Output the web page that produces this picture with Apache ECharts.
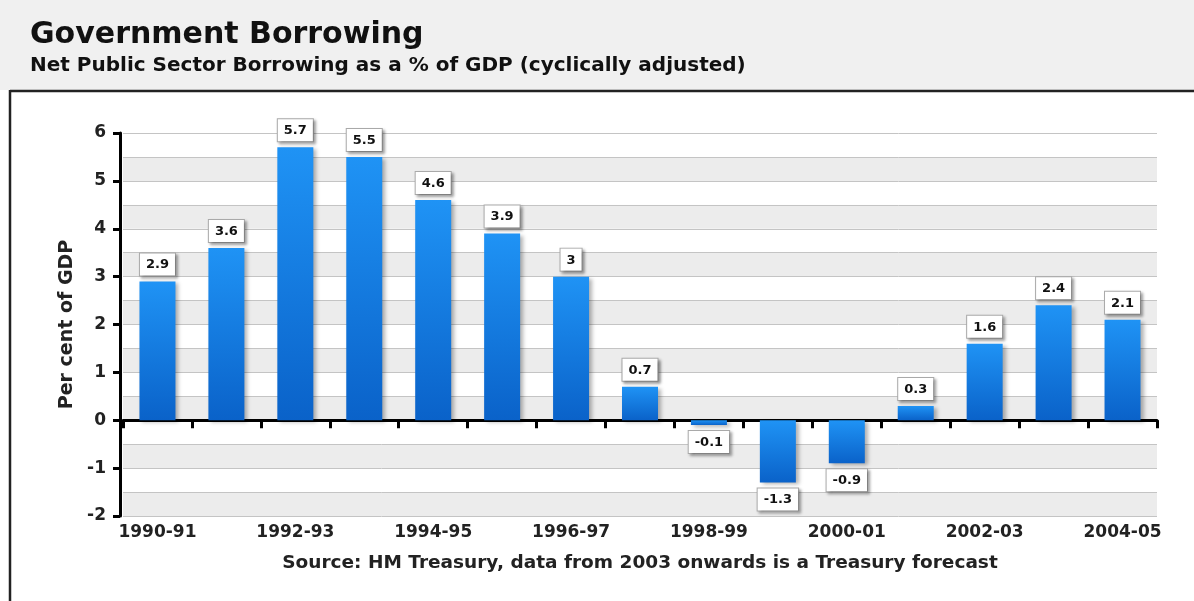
<!DOCTYPE html>
<html>
<head>
<meta charset="utf-8">
<script src="https://cdn.jsdelivr.net/npm/echarts@6/dist/echarts.min.js"></script>
<style>
html,body{margin:0;padding:0;background:#fff;}
#c{width:1194px;height:601px;}
</style>
</head>
<body>
<div id="c"></div>
<script>
const categories = ['1990-91','1991-92','1992-93','1993-94','1994-95','1995-96','1996-97','1997-98','1998-99','1999-00','2000-01','2001-02','2002-03','2003-04','2004-05'];
const borrowing = [2.9, 3.6, 5.7, 5.5, 4.6, 3.9, 3, 0.7, -0.1, -1.3, -0.9, 0.3, 1.6, 2.4, 2.1];
const titleText = 'Government Borrowing';
const subtitleText = 'Net Public Sector Borrowing as a % of GDP (cyclically adjusted)';
const sourceText = 'Source: HM Treasury, data from 2003 onwards is a Treasury forecast';
const yAxisName = 'Per cent of GDP';

const FONT = '"DejaVu Sans", Verdana, sans-serif';
const chart = echarts.init(document.getElementById('c'));

const barGrad = new echarts.graphic.LinearGradient(0,0,0,1,[
  {offset:0,color:'#1f93f5'},{offset:1,color:'#0a62c9'}
]);

chart.setOption({
  animation:false,
  backgroundColor:'#fff',
  graphic:[
    {type:'rect',shape:{x:0,y:0,width:1194,height:90},style:{fill:'#f0f0f0'},z:-10},
    {type:'line',shape:{x1:10,y1:91,x2:1194,y2:91},style:{stroke:'#222',lineWidth:2.5}},
    {type:'line',shape:{x1:10,y1:90,x2:10,y2:601},style:{stroke:'#222',lineWidth:2.5}},
    {type:'text',left:30,top:20,style:{text:titleText,font:'bold 30px '+FONT,fill:'#111'}},
    {type:'text',left:30,top:56,style:{text:subtitleText,font:'bold 20px '+FONT,fill:'#111'}},
    {type:'text',x:640,y:554,style:{text:sourceText,font:'bold 18.5px '+FONT,fill:'#222',textAlign:'center',textVerticalAlign:'top'}}
  ],
  grid:{left:123,right:37,top:133,bottom:85,containLabel:false},
  xAxis:[
    {type:'category',data:categories,position:'bottom',
     axisLine:{onZero:true,lineStyle:{color:'#000',width:3}},
     axisTick:{show:true,length:8,interval:0,lineStyle:{color:'#000',width:3}},
     axisLabel:{show:false},splitLine:{show:false}},
    {type:'category',data:categories,position:'bottom',
     axisLine:{show:false,onZero:false},axisTick:{show:false},
     axisLabel:{show:true,interval:1,margin:8,color:'#222',fontFamily:FONT,fontWeight:'bold',fontSize:17}}
  ],
  yAxis:[
    {type:'value',min:-2,max:6,interval:1,offset:3,name:yAxisName,nameLocation:'middle',nameGap:41,
     nameTextStyle:{fontFamily:FONT,fontWeight:'bold',fontSize:19,color:'#222'},
     axisLine:{show:true,lineStyle:{color:'#000',width:3}},
     axisTick:{show:true,length:7,lineStyle:{color:'#000',width:3}},
     axisLabel:{margin:14,color:'#222',fontFamily:FONT,fontWeight:'bold',fontSize:17},
     splitLine:{show:false}},
    {type:'value',min:-2,max:6,interval:0.5,position:'left',
     axisLine:{show:false},axisTick:{show:false},axisLabel:{show:false},
     splitLine:{show:true,lineStyle:{color:'#c4c4c4',width:1}},
     splitArea:{show:true,areaStyle:{color:['#ececec','#ffffff']}}}
  ],
  series:[{
    type:'bar',xAxisIndex:0,yAxisIndex:0,barWidth:36,
    itemStyle:{color:barGrad,shadowColor:'rgba(0,0,0,0.3)',shadowBlur:4,shadowOffsetX:3,shadowOffsetY:2},
    label:{show:true,
      position:'top',distance:6,
      formatter:p=>String(p.value),
      fontFamily:FONT,fontWeight:'bold',fontSize:13,color:'#111',
      backgroundColor:'#fff',borderColor:'#aaa',borderWidth:1,padding:[5,6,4,6],
      shadowColor:'rgba(0,0,0,0.35)',shadowBlur:3,shadowOffsetX:2,shadowOffsetY:2},
    data:borrowing.map(v=>({value:v,label:{position:v<0?'bottom':'top'}})),
    z:3
  }]
});
</script>
</body>
</html>
